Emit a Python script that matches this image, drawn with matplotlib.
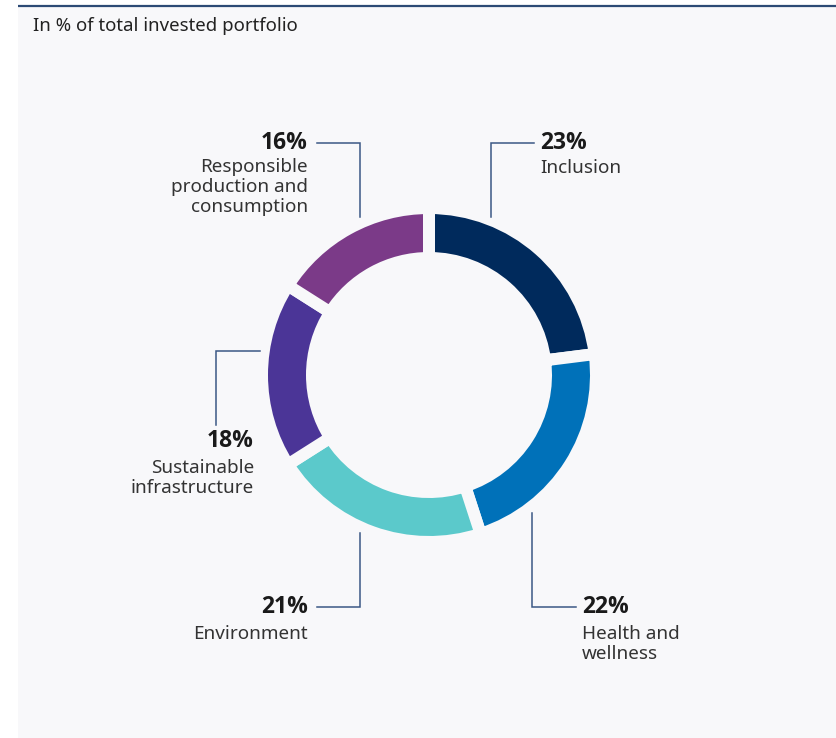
import matplotlib
matplotlib.use("Agg")
import matplotlib.pyplot as plt
from matplotlib.patches import Rectangle

plt.rcParams['font.family'] = ['Noto Sans', 'DejaVu Sans']

# ---- data ----
categories = ["Inclusion", "Health and\nwellness", "Environment",
              "Sustainable\ninfrastructure", "Responsible\nproduction and\nconsumption"]
values = [23, 22, 21, 18, 16]
colors = ["#002a5c", "#0071b9", "#5bc9cb", "#4b3597", "#7b3a88"]
title = "In % of total invested portfolio"

W, H = 837, 738
BG = "#f8f8fa"
LINE = "#3b5885"

fig = plt.figure(figsize=(W / 100, H / 100), dpi=100)
fig.patch.set_facecolor("white")
ax = fig.add_axes([0, 0, 1, 1])

def Y(y):
    return H - y

# panel
ax.add_patch(Rectangle((18, 0), W - 18, Y(7), facecolor=BG, edgecolor="none", zorder=0))
ax.plot([18, W], [Y(5.5), Y(5.5)], color="#2c4a75", lw=1.6, zorder=1, solid_capstyle="butt")
ax.text(33, Y(26), title, fontsize=13.4, color="#222222", ha="left", va="center")

# donut
cx, cy = 429, Y(375)
gap_px = 12
R = 161 + gap_px / 2
inner = 123 - gap_px / 2
ax.pie(values, colors=colors, startangle=90, counterclock=False,
       center=(cx, cy), radius=R,
       wedgeprops=dict(width=R - inner, edgecolor=BG, linewidth=gap_px * 0.72))

ax.set_xlim(0, W)
ax.set_ylim(0, H)
ax.set_aspect("auto")
ax.axis("off")

# leader lines (pixel layout)
leaders = [
    [(491, 217), (491, 143), (534, 143)],   # Inclusion
    [(532, 513), (532, 607), (576, 607)],   # Health
    [(360, 533), (360, 607), (317, 607)],   # Environment
    [(216, 425), (216, 351), (260, 351)],   # Sustainable infra
    [(360, 217), (360, 143), (317, 143)],   # Responsible
]
for pts in leaders:
    xs = [p[0] for p in pts]
    ys = [Y(p[1]) for p in pts]
    ax.plot(xs, ys, color=LINE, lw=1.1, solid_joinstyle="miter", zorder=3)

# labels: (x, y of pct, ha, y of first label line)
label_pos = [
    (540, 143, "left", 168),
    (582, 607, "left", 634),
    (308, 607, "right", 634),
    (254, 441, "right", 468),
    (308, 143, "right", 167),
]
for (x, yp, ha, yl), v, cat in zip(label_pos, values, categories):
    ax.text(x, Y(yp), f"{v}%", fontsize=16.5, fontweight="bold", color="#1a1a1a",
            family=["Open Sans", "DejaVu Sans"], ha=ha, va="center")
    for i, line in enumerate(cat.split("\n")):
        ax.text(x, Y(yl + 20 * i), line, fontsize=13.6, color="#333333",
                ha=ha, va="center")

fig.savefig("out.png", dpi=100, facecolor=fig.get_facecolor())
